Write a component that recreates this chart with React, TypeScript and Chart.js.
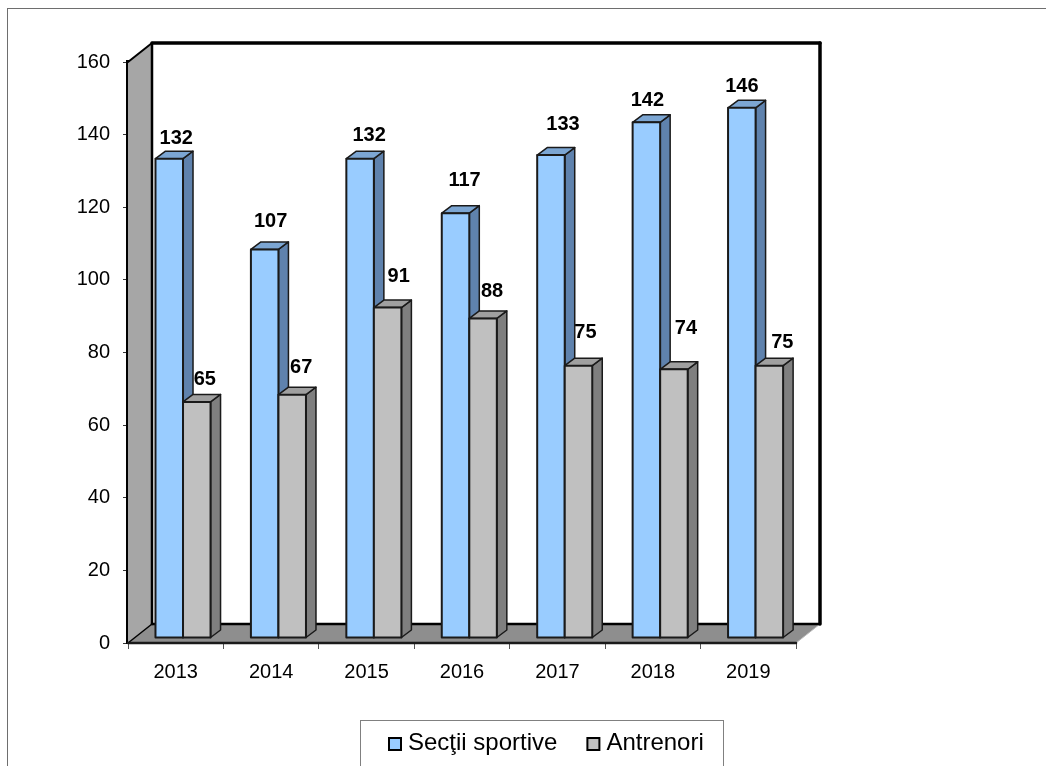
import React, { useEffect, useRef } from "react";
import { Chart, registerables } from "chart.js";

Chart.register(...registerables);

const years = ["2013", "2014", "2015", "2016", "2017", "2018", "2019"];
const sectii = [132, 107, 132, 117, 133, 142, 146];
const antrenori = [65, 67, 91, 88, 75, 74, 75];
const sectiiLabelDx = [7, 6, 9, 9, 12, 1, 0];
const sectiiLabelDy = [20, 28, 23, 33, 31, 22, 21];
const antrenoriLabelDx = [8, 9, 11, 9, 7, 12, 13];
const antrenoriLabelDy = [22, 27, 31, 27, 33, 41, 23];

const FONT = "'Liberation Sans', Arial, sans-serif";
const WALL_DX = 24;
const WALL_DY = 19;
const BAR_DX = 7.3;
const BAR_DY = 5;
const DEPTH_DX = 10;
const DEPTH_DY = 7.5;

const faces = [
  { front: "#99CCFF", side: "#5F82AD", top: "#7CA6D3", labelsDx: sectiiLabelDx, labelsDy: sectiiLabelDy },
  { front: "#C0C0C0", side: "#7F7F7F", top: "#A0A0A0", labelsDx: antrenoriLabelDx, labelsDy: antrenoriLabelDy },
];

function poly(ctx: CanvasRenderingContext2D, pts: number[][], fill?: string, stroke?: string, lw = 1) {
  ctx.beginPath();
  pts.forEach((p, i) => (i ? ctx.lineTo(p[0], p[1]) : ctx.moveTo(p[0], p[1])));
  ctx.closePath();
  if (fill) {
    ctx.fillStyle = fill;
    ctx.fill();
  }
  if (stroke) {
    ctx.strokeStyle = stroke;
    ctx.lineWidth = lw;
    ctx.lineJoin = "round";
    ctx.stroke();
  }
}

function line(ctx: CanvasRenderingContext2D, a: number[], b: number[], color: string, lw: number) {
  ctx.beginPath();
  ctx.moveTo(a[0], a[1]);
  ctx.lineTo(b[0], b[1]);
  ctx.strokeStyle = color;
  ctx.lineWidth = lw;
  ctx.lineCap = "round";
  ctx.stroke();
}

const threeD = {
  id: "threeD",
  afterLayout(chart: any) {
    const lg = chart.legend;
    const pad = lg.options.labels.padding;
    lg.left = 388 - pad;
    lg.right = chart.width;
    lg.top = 743 - 12 - pad;
    lg.adjustHitBoxes();
  },
  beforeDraw(chart: any) {
    const ctx = chart.ctx;
    ctx.save();
    ctx.fillStyle = "#FFFFFF";
    ctx.fillRect(0, 0, chart.width, chart.height);
    ctx.strokeStyle = "#6E6E6E";
    ctx.lineWidth = 1;
    ctx.strokeRect(7.5, 8.5, 1100, 800);
    ctx.strokeStyle = "#808080";
    ctx.strokeRect(360.5, 720.5, 363, 100);
    ctx.restore();
  },
  afterDraw(chart: any) {
    const ctx = chart.ctx;
    const lg = chart.legend;
    ctx.save();
    lg.legendHitBoxes.forEach((hb: any, i: number) => {
      ctx.fillStyle = faces[i].front;
      ctx.strokeStyle = "#000000";
      ctx.lineWidth = 2;
      ctx.fillRect(hb.left + 1, 738, 12, 12);
      ctx.strokeRect(hb.left + 1, 738, 12, 12);
    });
    ctx.restore();
  },
  beforeDatasetsDraw(chart: any) {
    const ctx = chart.ctx;
    const { left, right, top, bottom } = chart.chartArea;
    const bl = left + WALL_DX;
    const br = right + WALL_DX;
    const bt = top - WALL_DY;
    const bb = bottom - WALL_DY;
    ctx.save();
    poly(ctx, [[left, top], [bl, bt], [bl, bb], [left, bottom]], "#A6A6A6");
    poly(ctx, [[left, bottom], [bl, bb], [br, bb], [right, bottom]], "#8E8E8E");
    line(ctx, [right, bottom], [br, bb], "#BBBBBB", 1);
    line(ctx, [left, bottom], [bl, bb], "#000000", 1.5);
    line(ctx, [bl, bb], [br, bb], "#000000", 2.5);
    line(ctx, [left, top], [bl, bt], "#000000", 2);
    line(ctx, [bl, bt], [bl, bb], "#000000", 2.5);
    line(ctx, [bl, bt], [br, bt], "#000000", 3.5);
    line(ctx, [br, bt], [br, bb], "#000000", 3.5);
    line(ctx, [left, bottom], [right, bottom], "#1A1A1A", 2.5);

    chart.data.datasets.forEach((_: any, di: number) => {
      const style = faces[di];
      chart.getDatasetMeta(di).data.forEach((el: any) => {
        const x0 = el.x - el.width / 2 + BAR_DX;
        const x1 = el.x + el.width / 2 + BAR_DX;
        const y0 = el.y - BAR_DY;
        const y1 = el.base - BAR_DY;
        poly(ctx, [[x1, y0], [x1 + DEPTH_DX, y0 - DEPTH_DY], [x1 + DEPTH_DX, y1 - DEPTH_DY], [x1, y1]], style.side, "#1A1A1A", 1.5);
        poly(ctx, [[x0, y0], [x0 + DEPTH_DX, y0 - DEPTH_DY], [x1 + DEPTH_DX, y0 - DEPTH_DY], [x1, y0]], style.top, "#1A1A1A", 1.5);
        poly(ctx, [[x0, y0], [x1, y0], [x1, y1], [x0, y1]], style.front, "#1A1A1A", 2);
      });
    });

    ctx.font = `bold 20px ${FONT}`;
    ctx.fillStyle = "#000000";
    ctx.textAlign = "center";
    ctx.textBaseline = "middle";
    chart.data.datasets.forEach((ds: any, di: number) => {
      const style = faces[di];
      chart.getDatasetMeta(di).data.forEach((el: any, i: number) => {
        ctx.fillText(String(ds.data[i]), el.x + BAR_DX + style.labelsDx[i], el.y - BAR_DY - style.labelsDy[i]);
      });
    });
    ctx.restore();
    return false;
  },
};

export default function App() {
  const ref = useRef<HTMLCanvasElement>(null);
  useEffect(() => {
    const chart = new Chart(ref.current!, {
      type: "bar",
      data: {
        labels: years,
        datasets: [
          { label: "Secţii sportive", data: sectii, backgroundColor: "#99CCFF", borderColor: "#000000", borderWidth: 2 },
          { label: "Antrenori", data: antrenori, backgroundColor: "#C0C0C0", borderColor: "#000000", borderWidth: 2 },
        ],
      },
      options: {
        animation: false,
        responsive: false,
        layout: { padding: { left: 68, right: 250, top: 62, bottom: 0 } },
        datasets: { bar: { categoryPercentage: 0.577, barPercentage: 1 } },
        plugins: {
          tooltip: { enabled: false },
          title: { display: false },
          legend: {
            display: true,
            position: "bottom",
            align: "start",
            labels: {
              boxWidth: 8,
              boxHeight: 8,
              padding: 29,
              color: "#000000",
              font: { family: FONT, size: 24 },
              generateLabels: (chart: any) =>
                chart.data.datasets.map((ds: any, i: number) => ({
                  text: ds.label,
                  datasetIndex: i,
                  fillStyle: "rgba(0,0,0,0)",
                  strokeStyle: "rgba(0,0,0,0)",
                  lineWidth: 0,
                  fontColor: "#000000",
                  hidden: false,
                })),
            },
          },
        },
        scales: {
          x: {
            afterFit: (s: any) => {
              s.height = 123 - (s.chart.legend ? s.chart.legend.height : 0);
            },
            grid: { display: true, offset: true, drawOnChartArea: false, tickLength: 6, color: "#555555" },
            border: { display: false },
            ticks: { color: "#000000", padding: 11, maxRotation: 0, font: { family: FONT, size: 20 } },
          },
          y: {
            min: 0,
            max: 160,
            afterFit: (s: any) => {
              s.width = 60;
            },
            grid: { display: true, drawOnChartArea: false, tickLength: 5, color: "#333333" },
            border: { display: true, color: "#000000", width: 4 },
            ticks: { stepSize: 20, color: "#000000", padding: 13, font: { family: FONT, size: 20 } },
          },
        },
      },
      plugins: [threeD],
    } as any);
    return () => chart.destroy();
  }, []);
  return (
    <canvas
      ref={ref}
      width={1046}
      height={766}
      style={{ position: "absolute", left: 0, top: 0, width: 1046, height: 766, display: "block" }}
    />
  );
}
